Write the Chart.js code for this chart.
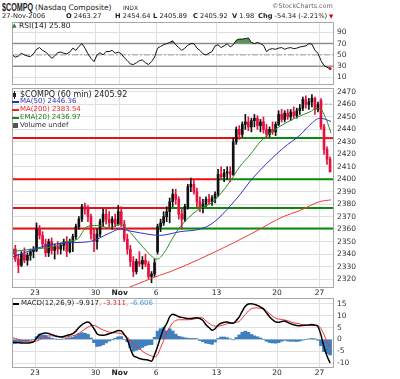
<!DOCTYPE html>
<html>
<head>
<meta charset="utf-8">
<script src="https://cdn.jsdelivr.net/npm/chart.js@4.4.1/dist/chart.umd.min.js"></script>
<style>
  body { margin: 0; width: 400px; height: 379px; background: #fff; position: relative; overflow: hidden;
         font-family: 'DejaVu Sans', sans-serif; color: #222; }
  canvas { position: absolute; left: 0; }
  .t { position: absolute; white-space: nowrap; line-height: 1; font-size: 7px; }
  .h { font-size: 6.7px; }
  .k { position: absolute; }
</style>
</head>
<body>
<canvas id="rsi" width="400" height="71" style="top:18px"></canvas>
<canvas id="price" width="400" height="214" style="top:86px"></canvas>
<canvas id="macd" width="400" height="83" style="top:296px"></canvas>

<!-- header -->
<div class="t" style="left:2px;top:2px;font:bold 10px 'Liberation Sans',sans-serif;transform:scaleX(.72);transform-origin:0 0">$COMPQ</div>
<div class="t" style="left:35px;top:4px;font-size:7.5px">(Nasdaq Composite)</div>
<div class="t" style="left:123px;top:5px;font-size:6px">INDX</div>
<div class="t" style="left:272px;top:3px;color:#666;font-size:6.4px">©StockCharts.com</div>
<div class="t h" style="left:2px;top:13px">27-Nov-2006</div>
<div class="t h" style="left:66px;top:13px"><b>O</b> 2463.27</div>
<div class="t h" style="left:115px;top:13px"><b>H</b> 2454.64</div>
<div class="t h" style="left:153px;top:13px"><b>L</b> 2405.89</div>
<div class="t h" style="left:193px;top:13px"><b>C</b> 2405.92</div>
<div class="t h" style="left:232px;top:13px"><b>V</b> 1.98</div>
<div class="t h" style="left:258px;top:13px"><b>Chg</b> -54.34 (-2.21%)</div>
<div class="t" style="left:329px;top:14px;color:#d00;font-size:5.5px">▼</div>

<!-- RSI legend -->
<div class="t" style="left:12px;top:22px;color:#3a7a3a;font-size:6px">▲</div>
<div class="t" style="left:19px;top:22px;font-size:7.5px">RSI(14) 25.80</div>

<!-- price legend -->
<div class="k" style="left:14px;top:91px;width:1px;height:8px;background:#222"></div>
<div class="k" style="left:13px;top:93px;width:3px;height:4px;background:#222"></div>
<div class="t" style="left:20px;top:91px;font-size:8px">$COMPQ (60 min) 2405.92</div>
<div class="k" style="left:12px;top:101px;width:7px;height:2px;background:#3030c0"></div>
<div class="t" style="left:20px;top:98px;color:#3030c0">MA(50) 2446.36</div>
<div class="k" style="left:12px;top:109px;width:7px;height:2px;background:#f02020"></div>
<div class="t" style="left:20px;top:106px;color:#f02020">MA(200) 2383.54</div>
<div class="k" style="left:12px;top:117px;width:7px;height:2px;background:#208020"></div>
<div class="t" style="left:20px;top:114px;color:#208020">EMA(20) 2436.97</div>
<div class="k" style="left:13px;top:123px;width:5px;height:5px;background:#555"></div>
<div class="t" style="left:20px;top:122px;color:#333">Volume undef</div>

<!-- MACD legend -->
<div class="k" style="left:13px;top:303px;width:6px;height:2px;background:#000"></div>
<div class="t" style="left:21px;top:300px">MACD(12,26,9) -9.917<span style="color:#e02020">, -3.311</span><span style="color:#4a9ad8">, -6.606</span></div>

<script>
// trading days shown, 60-minute bars (Nov 24 was a half session)
const dates = ['10/19','10/20','10/23','10/24','10/25','10/26','10/27','10/30','10/31',
  '11/1','11/2','11/3','11/6','11/7','11/8','11/9','11/10','11/13','11/14','11/15','11/16','11/17',
  '11/20','11/21','11/22','11/24','11/27'];
const sessionLength = [1,1,1,1,1,1,1,1,1, 1,1,1,1,1,1,1,1,1,1,1,1,1, 1,1,1,0.5,1];
const barsPerDay    = [4,4,4,4,4,4,4,4,4, 4,4,4,4,4,4,4,4,4,4,4,4,4, 4,4,4,2,4];

const tickDays   = ['10/23','10/30','11/1','11/6','11/13','11/20','11/27'];
const tickLabels = ['23','30','Nov','6','13','20','27'];
const priceTicks = [2320,2330,2340,2350,2360,2370,2380,2390,2400,2410,2420,2430,2440,2450,2460,2470];
const rsiTicks   = [10,30,50,70,90];
const macdTicks  = [-10,-5,0,5,10,15];

const opens = [
  2340,2344,2336,2331, 2340,2335,2339,2342, 2343,2360,2355,2348, 2341,2350,2343,2346,
  2344,2347,2350,2342, 2350,2354,2362,2368, 2378,2376,2370,2356, 2350,2356,2366,2372,
  2368,2365,2368,2364, 2374,2364,2352,2344, 2334,2326,2334,2332, 2335,2332,2322,2324,
  2342,2362,2365,2370, 2374,2382,2388,2384, 2372,2368,2378,2394, 2396,2390,2382,2378,
  2380,2384,2382,2385, 2388,2404,2402,2405, 2406,2404,2430,2440, 2436,2444,2446,2442,
  2447,2449,2443,2446, 2440,2436,2440,2438, 2444,2452,2448,2453, 2450,2454,2451,2455,
  2457,2464,2460,2462, 2465,2456, 2463.27,2442,2424,2416];
const highs = [
  2346,2347,2340,2342, 2345,2341,2344,2346, 2365,2363,2358,2352, 2352,2353,2348,2350,
  2349,2352,2354,2352, 2356,2364,2370,2380, 2381,2379,2372,2360, 2360,2368,2376,2376,
  2374,2370,2372,2379, 2378,2367,2356,2347, 2338,2336,2342,2338, 2340,2334,2326,2336,
  2364,2368,2374,2378, 2385,2392,2392,2386, 2376,2380,2396,2401, 2400,2393,2386,2384,
  2386,2388,2387,2390, 2408,2410,2408,2410, 2410,2433,2442,2443, 2446,2452,2450,2449,
  2452,2451,2448,2450, 2444,2442,2446,2446, 2455,2456,2455,2456, 2456,2458,2457,2460,
  2466,2467,2465,2468, 2466,2462, 2464.64,2444,2426,2418];
const lows = [
  2336,2334,2325,2330, 2333,2331,2335,2337, 2342,2352,2345,2338, 2338,2340,2336,2340,
  2340,2343,2338,2341, 2342,2352,2360,2366, 2372,2366,2352,2342, 2344,2354,2362,2364,
  2362,2360,2362,2363, 2362,2350,2340,2330, 2322,2324,2330,2328, 2330,2320,2317,2322,
  2340,2358,2363,2366, 2365,2378,2380,2368, 2360,2366,2376,2390, 2388,2378,2374,2373,
  2378,2380,2379,2381, 2386,2400,2398,2400, 2398,2403,2428,2432, 2434,2440,2439,2438,
  2442,2440,2438,2437, 2433,2434,2436,2435, 2443,2446,2446,2448, 2447,2449,2449,2452,
  2455,2457,2456,2458, 2452,2454, 2440,2420,2412,2405.89];
const closes = [
  2344,2336,2331,2340, 2335,2339,2342,2343, 2360,2355,2348,2341, 2350,2343,2346,2344,
  2347,2350,2342,2350, 2354,2362,2368,2378, 2376,2370,2356,2350, 2356,2366,2372,2368,
  2365,2368,2364,2374, 2364,2352,2344,2334, 2326,2334,2332,2335, 2332,2322,2324,2333,
  2362,2365,2370,2374, 2382,2388,2384,2372, 2368,2378,2394,2396, 2390,2382,2378,2380,
  2384,2382,2385,2388, 2404,2402,2405,2406, 2404,2430,2440,2436, 2444,2446,2442,2447,
  2449,2443,2446,2440, 2436,2440,2438,2444, 2452,2448,2453,2450, 2454,2451,2455,2457,
  2464,2460,2462,2465, 2456,2460, 2442,2424,2416,2405.92];

// moving averages, sampled along the trading-day axis
const ma50Days = [0.1,3.0,4.6,6.5,8.2,9.0,9.85,10.7,12.3,14.0,15.6,16.7,18.7,20.0,22.5,23.9,24.7,25.55,26.45];
const ma50     = [2337.6,2347,2349,2350,2357,2360,2358.5,2357,2355,2358,2360,2365,2385,2401,2425,2435.5,2443.5,2449,2446.4];
const ma200Days = [8.2,9.85,12.3,13.2,15.6,18.4,20.0,22.5,23.9,25.5,26.45];
const ma200     = [2307,2313.6,2323,2326,2336,2349,2357,2370,2375,2382,2383.5];
const ema20Days = [0.1,1.8,3.5,4.6,5.5,6.3,7.1,8.2,9.0,9.6,10.7,11.8,12.1,12.8,13.2,14.0,15.4,16.7,
                   18.1,18.9,19.8,20.6,22.0,23.7,24.7,25.3,25.7,26.1,26.45];
const ema20     = [2342,2344,2346,2350,2352,2362,2363,2361,2364,2360,2348,2337,2336,2343,2350,2362,2375,2382,
                   2398,2410,2420,2430,2441,2450,2454,2457,2455,2447,2437];

// drawn support / resistance levels (turn from red to green, the top one back to red)
const levels      = [2433, 2400, 2377, 2360.5];
const levelGreen  = [19.1, 17, 13.2, 12];
const levelRedAgain = [25.7, null, null, null];
const prevClose = 2460.26;

const rsi = [
  50,46,48,53, 50,48,47,52, 60,63,58,55, 50,44,48,54, 55,53,52,55, 62,58,65,70, 62,52,44,38,
  50,54,50,56, 56,58,53,55, 52,45,40,34, 33,36,40,41, 36,33,38,46, 62,65,68,70, 72,75,68,63,
  58,62,67,70, 70,62,58,52, 50,53,56,66, 68,63,66,70, 64,68,76,78, 78,79,80,72, 70,72,70,67,
  56,60,61,60, 62,63,60,62, 63,61,62,64, 65,66,70,69, 58,53, 40,31,28,25.8];
const rsiLevels = [30, 50, 70];

const macd = [
  -1.1,-1.3,-1.4,-1.5, -1.5,-1.5,-1.4,-1.1, 0.5,2.0,2.5,2.7, 2.5,2.0,1.6,1.2, 1.0,1.2,1.7,2.0,
  2.4,3.5,5.0,6.2, 7.0,7.3,6.4,4.5, 2.4,1.8,1.7,2.0, 2.4,2.8,3.3,3.8, 3.6,2.0,0.0,-3.9,
  -6.8,-7.5,-8.1,-8.4, -8.6,-8.8,-9.2,-6.5, -3.0,1.0,4.5,6.6, 9.5,10.6,10.2,9.6, 9.3,9.0,8.8,8.8,
  9.0,9.2,8.8,8.0, 6.2,5.0,3.9,4.5, 6.0,6.8,7.2,7.3, 7.0,6.8,8.0,9.5, 12.0,14.0,15.0,15.1,
  14.8,14.4,13.7,12.9, 11.2,9.6,8.3,7.4, 7.2,7.6,7.8,7.2, 6.6,6.2,5.9,5.8, 5.9,6.0,6.1,6.3,
  6.0,5.4, 1.8,-3.2,-7.0,-9.917];
const signal = [
  0.8,0.4,0.0,-0.4, -0.7,-0.9,-1.0,-1.0, -0.7,-0.2,0.6,1.0, 1.5,1.5,1.4,1.2, 1.0,1.0,1.1,1.3,
  1.5,1.9,2.6,3.4, 4.4,5.2,5.8,5.9, 5.4,4.6,4.0,3.5, 3.1,2.9,2.8,2.7, 2.4,2.0,1.0,-0.4,
  -1.8,-2.9,-3.9,-5.0, -5.9,-6.5,-7.0,-7.4, -6.5,-3.5,-0.5,3.0, 5.0,7.0,8.0,8.3, 8.3,8.3,8.3,8.4,
  8.6,8.9,9.3,9.0, 7.8,6.8,6.0,5.6, 5.6,5.8,6.2,6.6, 6.8,7.0,7.2,7.6, 9.0,10.5,12.0,13.0,
  13.3,13.3,13.1,12.9, 12.0,10.9,9.8,9.0, 8.6,8.4,8.2,7.9, 7.4,7.0,6.8,6.5, 6.2,6.0,5.9,5.9,
  5.9,5.8, 4.5,2.0,-1.0,-3.311];
const hist = [
  -1.9,-1.7,-1.4,-1.1, -0.8,-0.6,-0.4,-0.1, 1.2,2.2,1.9,1.7, 1.0,0.5,0.2,0.0, 0.0,0.2,0.6,0.7,
  0.9,1.6,2.4,2.8, 2.6,2.1,0.6,-1.4, -3.0,-2.8,-2.3,-1.5, -0.7,-0.1,0.5,1.1, 1.2,0.0,-1.0,-3.5,
  -5.0,-4.6,-4.2,-3.4, -2.7,-2.3,-2.2,0.9, 3.5,4.5,5.0,3.6, 4.5,3.6,2.2,1.3, 1.0,0.7,0.5,0.4,
  0.4,0.3,-0.5,-1.0, -1.6,-1.8,-2.1,-1.1, 0.4,1.0,1.0,0.7, 0.2,-0.2,0.8,1.9, 3.0,3.5,3.0,2.1,
  1.5,1.1,0.6,0.0, -0.8,-1.3,-1.5,-1.6, -1.4,-0.8,-0.4,-0.7, -0.8,-0.8,-0.9,-0.7, -0.3,0.0,0.2,0.4,
  0.1,-0.4, -2.7,-5.2,-6.0,-6.606];

// ---- layout on the trading-day axis ----
const FONT = "'DejaVu Sans', sans-serif";
const RED = '#e8103c', GRID = '#e0e0e0';
const xMin = 0.1, xMax = 26.7;

const dayStart = [];
let acc = 0;
sessionLength.forEach(len => { dayStart.push(acc); acc += len; });
const candleX = [];
barsPerDay.forEach((n, d) => {
  for (let k = 0; k < n; k++) candleX.push(dayStart[d] + sessionLength[d] * (k + 0.5) / n);
});
const tickPos = tickDays.map(d => dayStart[dates.indexOf(d)]);
const candleColor = closes.map((c, i) => c < opens[i] ? RED : '#111');
const pts = (xs, ys) => xs.map((x, i) => ({ x, y: ys[i] }));

Chart.defaults.font.family = FONT;
Chart.defaults.animation = false;

const frame = {
  id: 'frame',
  afterDraw(c) {
    const a = c.chartArea, g = c.ctx;
    g.save();
    g.strokeStyle = '#a8a8a8';
    g.lineWidth = 1;
    g.strokeRect(Math.round(a.left) + 0.5, Math.round(a.top) + 0.5,
                 Math.round(a.right - a.left) - 1, Math.round(a.bottom - a.top) - 1);
    g.restore();
  }
};

function xAxis(showLabels, height) {
  return {
    type: 'linear', min: xMin, max: xMax, offset: false,
    afterBuildTicks: s => { s.ticks = tickPos.map(v => ({ value: v })); },
    ticks: {
      display: showLabels, autoSkip: false, maxRotation: 0, padding: 1, color: '#222',
      font: c => ({ family: FONT, size: 7.5, weight: tickLabels[c.index] === 'Nov' ? 'bold' : 'normal' }),
      callback: (v, i) => tickLabels[i]
    },
    grid: { color: GRID, drawTicks: false, offset: false },
    border: { display: false },
    afterFit: s => { s.height = height; s.paddingLeft = 0; s.paddingRight = 0; }
  };
}

function yAxis(min, max, tickVals) {
  return {
    position: 'right', min, max,
    afterBuildTicks: s => { s.ticks = tickVals.map(v => ({ value: v })); },
    ticks: { color: '#333', padding: 3, font: { family: FONT, size: 7.5 }, callback: v => String(v) },
    grid: { color: GRID, drawTicks: false },
    border: { display: false },
    afterFit: s => { s.width = 66; s.paddingTop = 0; s.paddingBottom = 0; }
  };
}

const baseOptions = (yScale, xHeight, showX) => ({
  responsive: false,
  layout: { padding: { left: 12, right: 0, top: 2, bottom: 0 } },
  plugins: { legend: { display: false }, tooltip: { enabled: false } },
  scales: { x: xAxis(showX, xHeight), y: yScale }
});

// ---- RSI ----
new Chart(document.getElementById('rsi'), {
  type: 'line',
  data: {
    datasets: [
      ...rsiLevels.map(v => ({
        data: [{ x: xMin, y: v }, { x: xMax, y: v }],
        borderColor: v === 50 ? '#a0a0a0' : '#909090',
        borderWidth: v === 50 ? 1 : 1.5,
        borderDash: v === 50 ? [6, 2, 2, 2] : [],
        pointRadius: 0, order: 3
      })),
      {
        data: pts(candleX, rsi),
        borderColor: '#111', borderWidth: 1, tension: 0,
        pointRadius: c => c.dataIndex === rsi.length - 1 ? 1.5 : 0,
        pointBackgroundColor: '#e00', pointBorderWidth: 0,
        fill: { target: { value: 70 }, above: '#5a935a', below: 'rgba(0,0,0,0)' },
        order: 1
      }
    ]
  },
  options: baseOptions(yAxis(-3.3, 108.3, rsiTicks), 2, false),
  plugins: [frame]
});

// ---- price ----
const levelSets = [];
const seg = (a, b, y, color) => ({
  type: 'line', data: [{ x: a, y }, { x: b, y }], borderColor: color,
  borderWidth: 2, pointRadius: 0, order: 6
});
levels.forEach((lv, i) => {
  levelSets.push(seg(xMin, levelGreen[i], lv, '#e81010'));
  levelSets.push(seg(levelGreen[i], levelRedAgain[i] ?? xMax, lv, '#0a8a0a'));
  if (levelRedAgain[i] != null) levelSets.push(seg(levelRedAgain[i], xMax, lv, '#e81010'));
});

new Chart(document.getElementById('price'), {
  type: 'bar',
  data: {
    datasets: [
      ...levelSets,
      { type: 'line', data: [{ x: dayStart[dates.indexOf('11/24')], y: prevClose }, { x: xMax, y: prevClose }],
        borderColor: '#999', borderWidth: 1, borderDash: [2, 2], pointRadius: 0, order: 5 },
      { data: candleX.map((x, i) => ({ x, y: [lows[i], highs[i]] })),
        backgroundColor: candleColor, barThickness: 1, grouped: false, order: 4 },
      { data: candleX.map((x, i) => ({ x, y: [opens[i], closes[i]] })),
        backgroundColor: candleColor, barThickness: 2, minBarLength: 1, grouped: false, order: 3 },
      { type: 'line', data: pts(ma200Days, ma200), borderColor: '#f03a3a', borderWidth: 1,
        pointRadius: 0, cubicInterpolationMode: 'monotone', order: 2 },
      { type: 'line', data: pts(ma50Days, ma50), borderColor: '#3333c0', borderWidth: 1,
        pointRadius: 0, cubicInterpolationMode: 'monotone', order: 1 },
      { type: 'line', data: pts(ema20Days, ema20), borderColor: '#2a8a2a', borderWidth: 1,
        pointRadius: 0, cubicInterpolationMode: 'monotone', order: 1 }
    ]
  },
  options: baseOptions(yAxis(2312.8, 2473.2, priceTicks), 12, true),
  plugins: [frame]
});

// ---- MACD ----
new Chart(document.getElementById('macd'), {
  type: 'bar',
  data: {
    datasets: [
      { data: pts(candleX, hist), backgroundColor: '#3f7fbf', barThickness: 3, order: 3 },
      { type: 'line', data: pts(candleX, signal), borderColor: '#f03030', borderWidth: 1,
        pointRadius: 0, cubicInterpolationMode: 'monotone', order: 2 },
      { type: 'line', data: pts(candleX, macd), borderColor: '#000', borderWidth: 1.5,
        pointRadius: 0, cubicInterpolationMode: 'monotone', order: 1 }
    ]
  },
  options: baseOptions(yAxis(-12.1, 17.5, macdTicks), 11, true),
  plugins: [frame]
});
</script>
</body>
</html>
